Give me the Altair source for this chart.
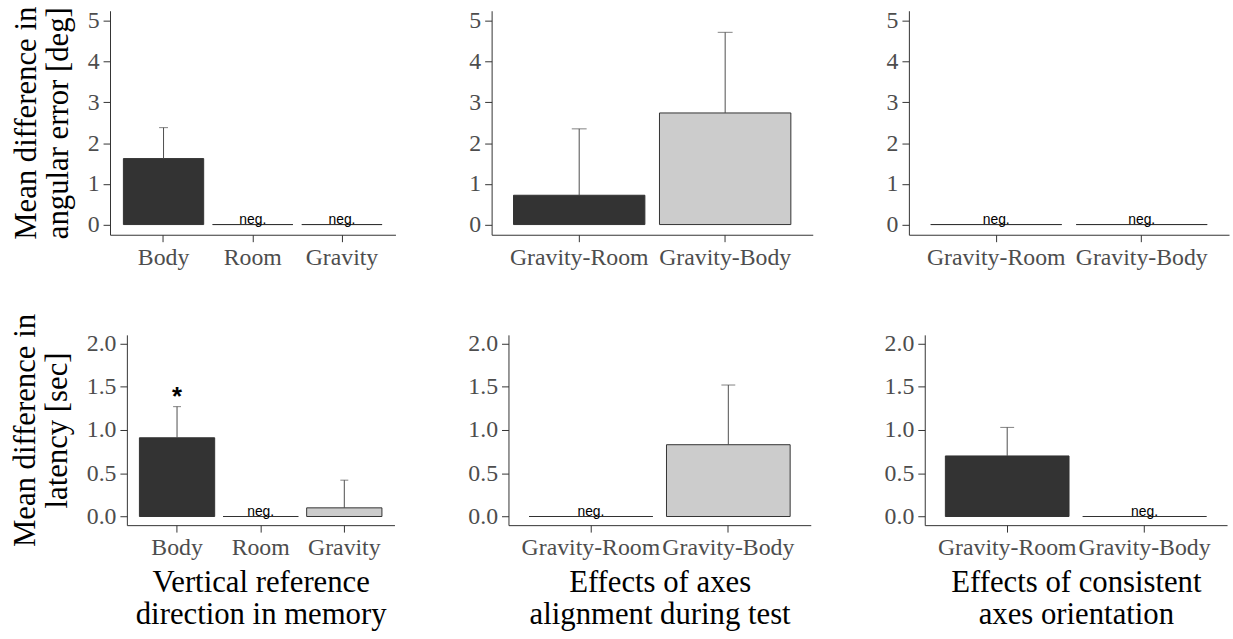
import altair as alt
import pandas as pd

# ---- data ----
# top row: mean difference in angular error [deg]
ta_cats = ["Body", "Room", "Gravity"]
ta_mean = [1.62, 0.0, 0.0]
ta_upper = [2.38, None, None]
ta_neg = [False, True, True]

tb_cats = ["Gravity-Room", "Gravity-Body"]
tb_mean = [0.72, 2.74]
tb_upper = [2.35, 4.72]
tb_neg = [False, False]

tc_cats = ["Gravity-Room", "Gravity-Body"]
tc_mean = [0.0, 0.0]
tc_upper = [None, None]
tc_neg = [True, True]

# bottom row: mean difference in latency [sec]
ba_cats = ["Body", "Room", "Gravity"]
ba_mean = [0.91, 0.0, 0.10]
ba_upper = [1.27, None, 0.42]
ba_neg = [False, True, False]
ba_star = ["*", "", ""]

bb_cats = ["Gravity-Room", "Gravity-Body"]
bb_mean = [0.0, 0.83]
bb_upper = [None, 1.52]
bb_neg = [True, False]

bc_cats = ["Gravity-Room", "Gravity-Body"]
bc_mean = [0.70, 0.0]
bc_upper = [1.03, None]
bc_neg = [False, True]

fill_map = {"Body": "#333333", "Room": "#808080", "Gravity": "#CCCCCC",
            "Gravity-Room": "#333333", "Gravity-Body": "#CCCCCC"}

top_ticks = [0, 1, 2, 3, 4, 5]
bot_ticks = [0.0, 0.5, 1.0, 1.5, 2.0]

SERIF = "Liberation Serif"
SANS = "Liberation Sans"


def panel(cats, mean, upper, neg, width, height, ydomain, yticks, yfmt,
          cap, ytitle=None, xtitle=None, star=None):
    df = pd.DataFrame({"cat": cats, "mean": mean, "upper": upper, "neg": neg,
                       "fill": [fill_map[c] for c in cats]})
    if star is not None:
        df["star"] = star
    xenc = alt.X("cat:N", sort=cats,
                 scale=alt.Scale(paddingInner=0.1, paddingOuter=0.15),
                 axis=alt.Axis(labelAngle=0, title=xtitle if xtitle else None,
                               titlePadding=8, titleLineHeight=32))
    yscale = alt.Scale(domain=ydomain, nice=False, zero=False)
    yaxis = alt.Axis(values=yticks, format=yfmt,
                     title=ytitle if ytitle else None,
                     titlePadding=13, titleLineHeight=32)
    bars = alt.Chart(df).mark_bar(stroke="#333333", strokeWidth=1).encode(
        x=xenc,
        y=alt.Y("mean:Q", scale=yscale, axis=yaxis),
        fill=alt.Fill("fill:N", scale=None),
    )
    err = alt.Chart(df).transform_filter("datum.upper != null").mark_rule(
        color="#4D4D4D", strokeWidth=1).encode(
        x=alt.X("cat:N", sort=cats), y="mean:Q", y2="upper:Q")
    caps = alt.Chart(df).transform_filter("datum.upper != null").mark_tick(
        orient="horizontal", size=cap, thickness=1, color="#4D4D4D").encode(
        x=alt.X("cat:N", sort=cats), y="upper:Q")
    negt = alt.Chart(df).transform_filter("datum.neg").mark_text(
        text="neg.", font=SANS, fontSize=14, color="black",
        baseline="alphabetic", dy=-1).encode(
        x=alt.X("cat:N", sort=cats), y=alt.datum(0))
    layers = [bars, err, caps, negt]
    if star is not None:
        st = alt.Chart(df).transform_filter("datum.star != ''").mark_text(
            font=SANS, fontSize=26, fontWeight="bold", color="black",
            baseline="alphabetic", dy=-2).encode(
            x=alt.X("cat:N", sort=cats), y="upper:Q", text="star:N")
        layers.append(st)
    return alt.layer(*layers).properties(width=width, height=height)


def spacer(w):
    # invisible layout spacer so that each row starts at its own left edge
    return alt.Chart(pd.DataFrame({"s": [0]})).mark_rule(
        opacity=0, strokeWidth=0).encode(
        x=alt.value(0), x2=alt.value(1), y=alt.value(0)
    ).properties(width=w, height=1)


TD = [-0.25, 5.25]
BD = [-0.1, 2.1]
TH = 226
BH = 192

top = alt.hconcat(
    panel(ta_cats, ta_mean, ta_upper, ta_neg, 288, TH, TD, top_ticks, "d", 9,
          ytitle=["Mean difference in", "angular error [deg]"]),
    panel(tb_cats, tb_mean, tb_upper, tb_neg, 324, TH, TD, top_ticks, "d", 15),
    panel(tc_cats, tc_mean, tc_upper, tc_neg, 323, TH, TD, top_ticks, "d", 15),
    spacing=74,
)
bottom = alt.hconcat(
    panel(ba_cats, ba_mean, ba_upper, ba_neg, 270, BH, BD, bot_ticks, ".1f", 8,
          ytitle=["Mean difference in", "latency [sec]"],
          xtitle=["Vertical reference", "direction in memory"], star=ba_star),
    panel(bb_cats, bb_mean, bb_upper, bb_neg, 305, BH, BD, bot_ticks, ".1f", 14,
          xtitle=["Effects of axes", "alignment during test"]),
    panel(bc_cats, bc_mean, bc_upper, bc_neg, 305, BH, BD, bot_ticks, ".1f", 14,
          xtitle=["Effects of consistent", "axes orientation"]),
    spacing=74,
)

row1 = alt.hconcat(spacer(3), top, spacing=0)
row2 = alt.hconcat(spacer(3), bottom, spacing=0)

chart = alt.vconcat(row1, row2, spacing=44).properties(
    padding={"left": 7, "top": 3, "right": 4, "bottom": 4},
    background="white",
).configure_view(stroke=None).configure_axis(
    grid=False,
    labelFont=SERIF, labelFontSize=24, labelColor="#4D4D4D",
    titleFont=SERIF, titleFontSize=31, titleColor="black",
    titleFontWeight="normal",
    domainColor="#333333", tickColor="#333333",
    tickSize=7, labelPadding=4, domainWidth=1, tickWidth=1,
)

chart.save("out.html", embed_options={"renderer": "svg", "actions": False})
